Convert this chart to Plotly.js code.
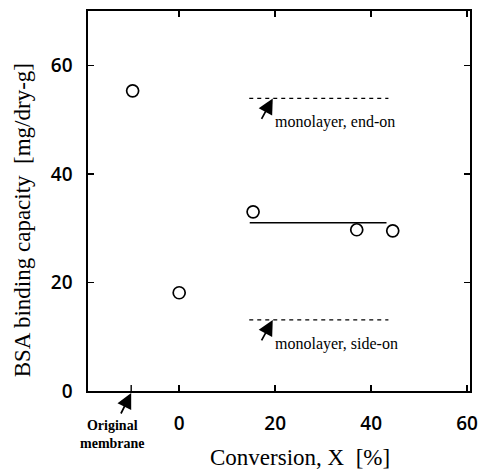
<!DOCTYPE html>
<html>
<head>
<meta charset="utf-8">
<script src="https://cdn.plot.ly/plotly-3.0.1.min.js"></script>
<style>
  html, body { margin: 0; padding: 0; background: #fff; }
  #chart { width: 482px; height: 473px; }
</style>
</head>
<body>
<div id="chart"></div>
<script>
// Measured BSA binding capacity vs. grafting conversion
const conversion = [-9.7, 0, 15.4, 37.0, 44.5];
const capacity = [55.3, 18.1, 33.0, 29.7, 29.5];

// Position of the untreated (original) membrane on the x axis
const originalX = -10;

// Mean level over the grafted membranes and theoretical monolayer levels
const fitX = [14.7, 43.2];
const fitY = [31.0, 31.0];
const endOnX = [14.6, 43.6];
const endOnY = [53.9, 53.9];
const sideOnX = [14.6, 43.6];
const sideOnY = [13.1, 13.1];

// Tick values and labels
const xTickVals = [0, 20, 40, 60];
const xTickText = ['0', '20', '40', '60'];
const yTickVals = [0, 20, 40, 60];
const yTickText = ['0', '20', '40', '60'];

const serif = 'Liberation Serif, Times New Roman, serif';
const sans = 'Open Sans, DejaVu Sans, sans-serif';

const traces = [
  {
    x: fitX, y: fitY, mode: 'lines', type: 'scatter',
    line: { color: '#000', width: 1.5 }, hoverinfo: 'skip'
  },
  {
    x: endOnX, y: endOnY, mode: 'lines', type: 'scatter',
    line: { color: '#000', width: 1.4, dash: '4px,4px' }, hoverinfo: 'skip'
  },
  {
    x: sideOnX, y: sideOnY, mode: 'lines', type: 'scatter',
    line: { color: '#000', width: 1.4, dash: '4px,4px' }, hoverinfo: 'skip'
  },
  {
    x: conversion, y: capacity, mode: 'markers', type: 'scatter',
    marker: { symbol: 'circle-open', size: 12, color: '#000', line: { width: 1.7, color: '#000' } },
    cliponaxis: false
  }
];

const arrowStyle = { showarrow: true, arrowhead: 2, arrowsize: 1.8, arrowwidth: 1.7, arrowcolor: '#000' };

const layout = {
  width: 482, height: 473,
  margin: { l: 88, r: 12, t: 11, b: 82 },
  paper_bgcolor: '#fff', plot_bgcolor: '#fff',
  showlegend: false,
  font: { family: sans, color: '#000' },
  xaxis: {
    range: [-19, 60.6],
    tickvals: xTickVals, ticktext: xTickText,
    ticks: 'inside', ticklen: 6, tickwidth: 1.4, tickcolor: '#000',
    showline: true, linecolor: '#000', linewidth: 1.6, mirror: 'ticks',
    showgrid: false, zeroline: false,
    ticklabelstandoff: 15,
    tickfont: { family: sans, size: 19, weight: 600, color: '#000' }
  },
  yaxis: {
    range: [0, 70],
    tickvals: yTickVals, ticktext: yTickText,
    ticks: 'inside', ticklen: 6, tickwidth: 1.4, tickcolor: '#000',
    showline: true, linecolor: '#000', linewidth: 1.6, mirror: 'ticks',
    showgrid: false, zeroline: false,
    ticklabelstandoff: 10,
    tickfont: { family: sans, size: 19, weight: 600, color: '#000' }
  },
  shapes: [
    // tick marking the original membrane position
    { type: 'line', xref: 'x', yref: 'y', x0: originalX, x1: originalX, y0: 0, y1: 1.1,
      line: { color: '#000', width: 1.4 } }
  ],
  annotations: [
    { xref: 'paper', yref: 'paper', x: 0.555, y: -0.176, xanchor: 'center', yanchor: 'middle',
      text: 'Conversion, X\u00a0\u00a0[%]', showarrow: false,
      font: { family: serif, size: 23, color: '#000' } },
    { xref: 'paper', yref: 'paper', x: -0.173, y: 0.449, xanchor: 'center', yanchor: 'middle',
      text: 'BSA binding capacity\u00a0\u00a0[mg/dry-g]', textangle: -90, showarrow: false,
      font: { family: serif, size: 23, color: '#000' } },

    // end-on monolayer
    Object.assign({ xref: 'x', yref: 'y', x: 19.5, y: endOnY[0], ax: -12, ay: 22, text: '' }, arrowStyle),
    { xref: 'x', yref: 'y', x: 19.6, y: endOnY[0], yshift: -24, xanchor: 'left', yanchor: 'middle',
      text: 'monolayer, end-on', showarrow: false,
      font: { family: serif, size: 16, color: '#000' } },

    // side-on monolayer
    Object.assign({ xref: 'x', yref: 'y', x: 19.5, y: sideOnY[0], ax: -12, ay: 22, text: '' }, arrowStyle),
    { xref: 'x', yref: 'y', x: 19.6, y: sideOnY[0], yshift: -24, xanchor: 'left', yanchor: 'middle',
      text: 'monolayer, side-on', showarrow: false,
      font: { family: serif, size: 16, color: '#000' } },

    // original membrane marker below the axis
    Object.assign({ xref: 'x', yref: 'y', x: originalX, y: 0, yshift: -2, ax: -11, ay: 22, text: '' }, arrowStyle),
    { xref: 'x', yref: 'paper', x: -13.8, y: -0.115, xanchor: 'center', yanchor: 'middle',
      text: '<b>Original</b><br><b>membrane</b>', showarrow: false,
      font: { family: serif, size: 14, color: '#000' } }
  ]
};

Plotly.newPlot('chart', traces, layout, { staticPlot: true, displayModeBar: false });
</script>
</body>
</html>
